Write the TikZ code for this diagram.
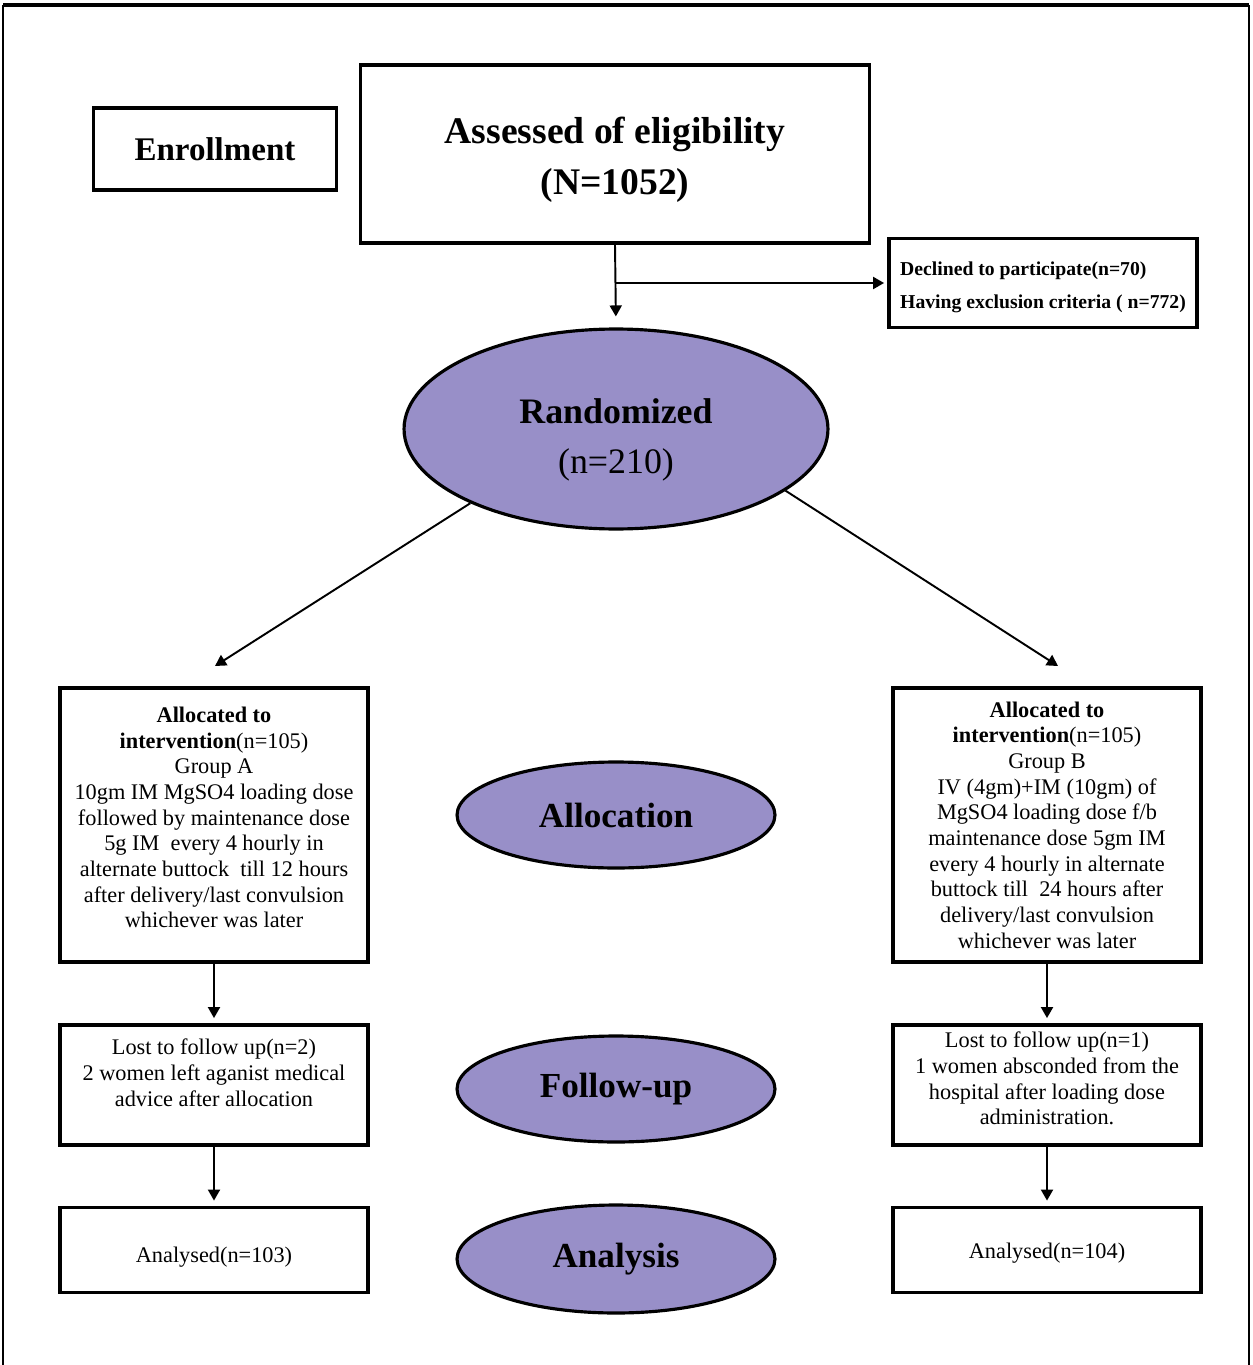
\documentclass[tikz,border=0pt]{standalone}
\usepackage{fontspec}
\setmainfont{Liberation Serif}
\usetikzlibrary{arrows.meta,shapes.geometric}
\definecolor{lilac}{HTML}{988FC8}
\begin{document}
\begin{tikzpicture}[x=0.02cm,y=-0.02cm,
    box/.style={draw,line width=2.2pt,align=center,inner sep=0pt},
    phase/.style={draw,ellipse,line width=1.8pt,fill=lilac,align=center,inner sep=0pt},
    arr/.style={-{Triangle[length=0.22cm,width=0.24cm]},line width=1.1pt},
    txt/.style={font=\fontsize{12.7}{14.6}\selectfont},
    big/.style={font=\bfseries\fontsize{20}{28}\selectfont}]
  \useasboundingbox (0,0) rectangle (1252,1365);
  \draw[line width=1.2pt] (3,1370) -- (3,6) -- (1249,6) -- (1249,1370);
  \draw[line width=2.8pt] (3,5) -- (1249,5);
  \node[box,minimum width=4.86cm,minimum height=1.64cm,font=\bfseries\fontsize{18.8}{22}\selectfont] (enroll) at (215,149) {Enrollment};
  \node[box,minimum width=10.18cm,minimum height=3.56cm,font=\bfseries\fontsize{21.4}{28.5}\selectfont] (assess) at (615,154) {\rule{0pt}{0.76cm}Assessed of eligibility\\(N=1052)};
  \node[box,minimum width=6.16cm,minimum height=1.78cm,align=left,font=\bfseries\fontsize{11.2}{18.8}\selectfont] (excl) at (1043,283) {\rule{0pt}{0.45cm}Declined to participate(n=70)\\Having exclusion criteria ( n=772)};
  \node[phase,minimum width=8.48cm,minimum height=4cm,font=\fontsize{20.4}{28}\selectfont] (rand) at (616,429) {\rule{0pt}{0.93cm}\textbf{Randomized}\\(n=210)};
  \node[box,txt,minimum width=6.16cm,minimum height=5.48cm] (allocA) at (214,825) {\textbf{Allocated to}\\\textbf{intervention}(n=105)\\Group A\\10gm IM MgSO4 loading dose\\followed by maintenance dose\\5g IM\ \ every 4 hourly in\\alternate buttock\ \ till 12 hours\\after delivery/last convulsion\\whichever was later\rule[-0.3cm]{0pt}{0.3cm}};
  \node[box,txt,minimum width=6.16cm,minimum height=5.48cm] (allocB) at (1047,825) {\textbf{Allocated to}\\\textbf{intervention}(n=105)\\Group B\\IV (4gm)+IM (10gm) of\\MgSO4 loading dose f/b\\maintenance dose 5gm IM\\every 4 hourly in alternate\\buttock till\ \ 24 hours after\\delivery/last convulsion\\whichever was later};
  \node[phase,big,minimum width=6.36cm,minimum height=2.12cm] (alloc) at (616,815) {Allocation};
  \node[box,txt,minimum width=6.16cm,minimum height=2.4cm] (lostA) at (214,1085) {Lost to follow up(n=2)\\2 women left aganist medical\\advice after allocation\rule[-0.5cm]{0pt}{0.5cm}};
  \node[box,txt,minimum width=6.16cm,minimum height=2.4cm] (lostB) at (1047,1085) {Lost to follow up(n=1)\\1 women absconded from the\\hospital after loading dose\\administration.\rule[-0.26cm]{0pt}{0.26cm}};
  \node[phase,big,minimum width=6.36cm,minimum height=2.12cm] (follow) at (616,1089) {Follow-up};
  \node[box,txt,minimum width=6.16cm,minimum height=1.7cm] (anaA) at (214,1250) {\rule{0pt}{0.6cm}Analysed(n=103)};
  \node[box,txt,minimum width=6.16cm,minimum height=1.7cm] (anaB) at (1047,1250) {\rule{0pt}{0.45cm}Analysed(n=104)};
  \node[phase,big,minimum width=6.36cm,minimum height=2.16cm] (analysis) at (616,1259) {Analysis};
  \coordinate (split) at (assess.south |- excl.west);
  \coordinate (tipA) at (215,666);
  \coordinate (tipB) at (1058,666);
  \draw[arr,shorten >=0.22cm] (assess.south) -- (rand.north);
  \draw[arr,shorten >=0.06cm] (split) -- (excl.west);
  \draw[arr] (rand.207) -- (tipA);
  \draw[arr] (rand.340) -- (tipB);
  \draw[arr,shorten >=0.1cm] (allocA.south) -- (lostA.north);
  \draw[arr,shorten >=0.1cm] (allocB.south) -- (lostB.north);
  \draw[arr,shorten >=0.1cm] (lostA.south) -- (anaA.north);
  \draw[arr,shorten >=0.1cm] (lostB.south) -- (anaB.north);
\end{tikzpicture}
\end{document}
